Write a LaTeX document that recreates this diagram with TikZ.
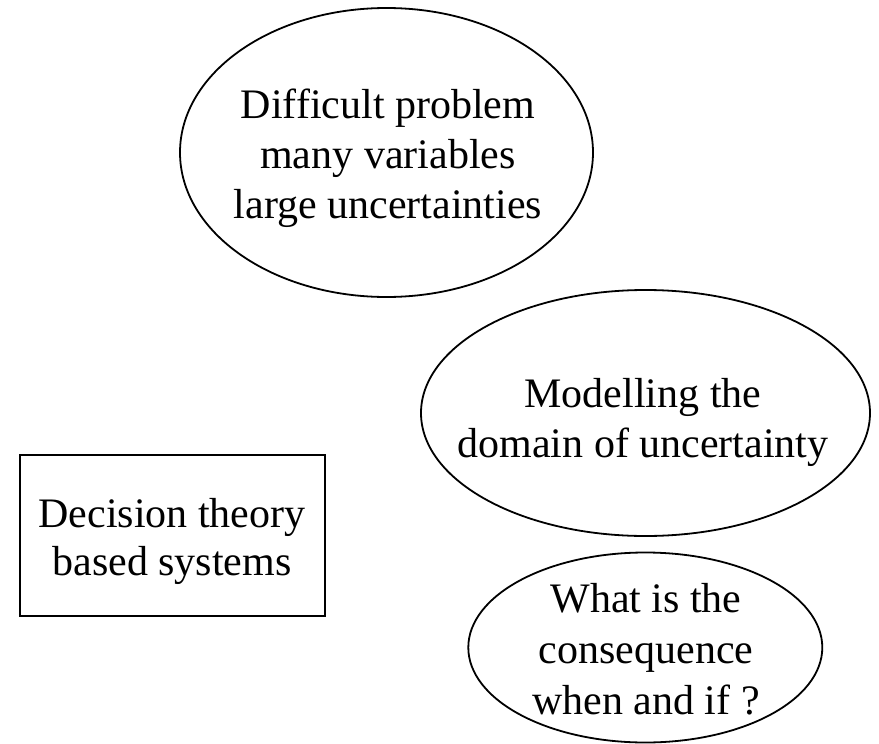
\documentclass[tikz,border=0pt]{standalone}
\usepackage{fontspec}
\setmainfont{Liberation Serif}
\usetikzlibrary{shapes.geometric}
\begin{document}
\begin{tikzpicture}[x=1pt,y=-1pt,
  bubble/.style={draw, ellipse, line width=1.8pt, inner sep=0pt},
  framebox/.style={draw, rectangle, line width=2.6pt, inner sep=0pt},
  caption/.style={align=center, inner sep=0pt, font=\fontsize{42}{50}\selectfont},
  tightcaption/.style={caption, font=\fontsize{42}{48}\selectfont},
  loosecaption/.style={caption, font=\fontsize{42}{51}\selectfont}]
\useasboundingbox (0,0) rectangle (879,744);

% outlines
\node[bubble, minimum width=413pt, minimum height=289pt] (e1) at (386.5,152.5) {};
\node[bubble, minimum width=449pt, minimum height=246pt] (e2) at (645.5,413) {};
\node[bubble, minimum width=354pt, minimum height=190pt] (e3) at (645.3,647.5) {};
\node[framebox, minimum width=305pt, minimum height=161pt] (r1) at (172.5,535.5) {};

% texts
\node[caption] (t1) at (388,158.2) {Difficult problem\\many variables\\large uncertainties};
\node[caption] (t2) at (643,422.2) {Modelling the\\domain of uncertainty};
\node[tightcaption] (t3) at (172,541.2) {Decision theory\\based systems};
\node[loosecaption] (t4) at (646,649.7) {What is the\\consequence\\when and if ?};
\end{tikzpicture}
\end{document}
